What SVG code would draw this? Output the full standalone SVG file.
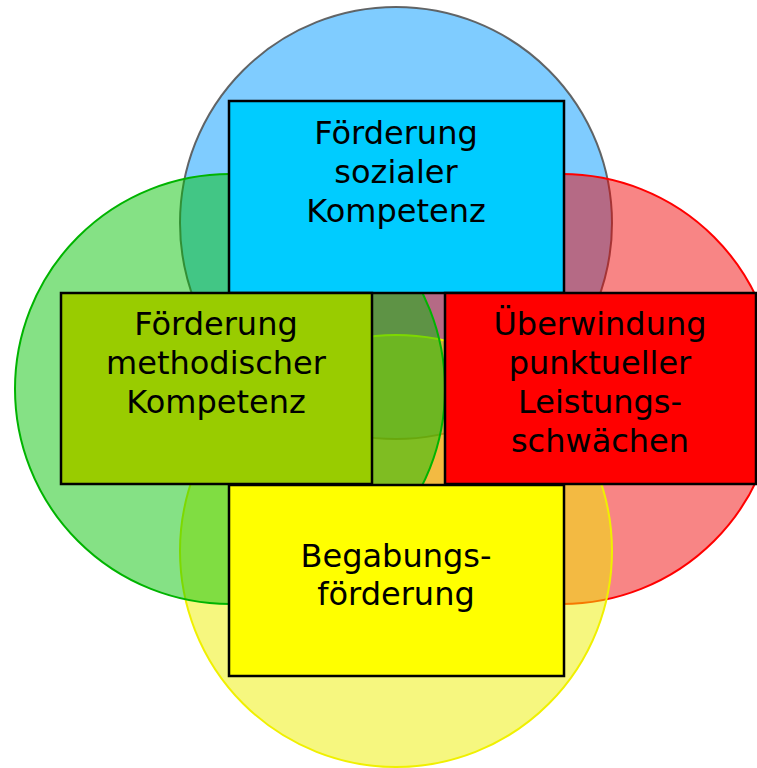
<svg xmlns="http://www.w3.org/2000/svg" width="757" height="768" viewBox="0 0 757 768">
<style>
.c{stroke-width:2}
.r{stroke:#000;stroke-width:2.5}
text{font-family:"DejaVu Sans","Liberation Sans",sans-serif;font-size:32px;fill:#000;text-anchor:middle}
</style>
<rect width="757" height="768" fill="#fff"/>
<g id="circles">
<circle id="c-blue" class="c" cx="396" cy="223" r="216" fill="#0099FF" fill-opacity="0.5" stroke="#555" stroke-opacity="0.9"/>
<circle id="c-red" class="c" cx="562" cy="389" r="215" fill="#F00000" fill-opacity="0.48" stroke="#FF0000"/>
<circle id="c-yellow" class="c" cx="396" cy="551" r="216" fill="#EEF000" fill-opacity="0.5" stroke="#F0F000"/>
<circle id="c-green" class="c" cx="230" cy="389" r="215" fill="#00C000" fill-opacity="0.48" stroke="#00B400"/>
</g>
<g id="node-sozial">
<rect class="r" x="229" y="101" width="335" height="192" fill="#00CCFF"/>
<text x="396" y="144">Förderung</text>
<text x="396" y="183">sozialer</text>
<text x="396" y="222">Kompetenz</text>
</g>
<g id="node-methodisch">
<rect class="r" x="61" y="293" width="311" height="191" fill="#99CC00"/>
<text x="216" y="335">Förderung</text>
<text x="216" y="374">methodischer</text>
<text x="216" y="413">Kompetenz</text>
</g>
<g id="node-ueberwindung">
<rect class="r" x="445" y="293" width="311" height="191" fill="#FF0000"/>
<text x="600" y="335">Überwindung</text>
<text x="600" y="374">punktueller</text>
<text x="600" y="413">Leistungs-</text>
<text x="600" y="452">schwächen</text>
</g>
<g id="node-begabung">
<rect class="r" x="229" y="485" width="335" height="191" fill="#FFFF00"/>
<text x="396" y="567">Begabungs-</text>
<text x="396" y="605">förderung</text>
</g>
<g id="connectors"/>
</svg>
